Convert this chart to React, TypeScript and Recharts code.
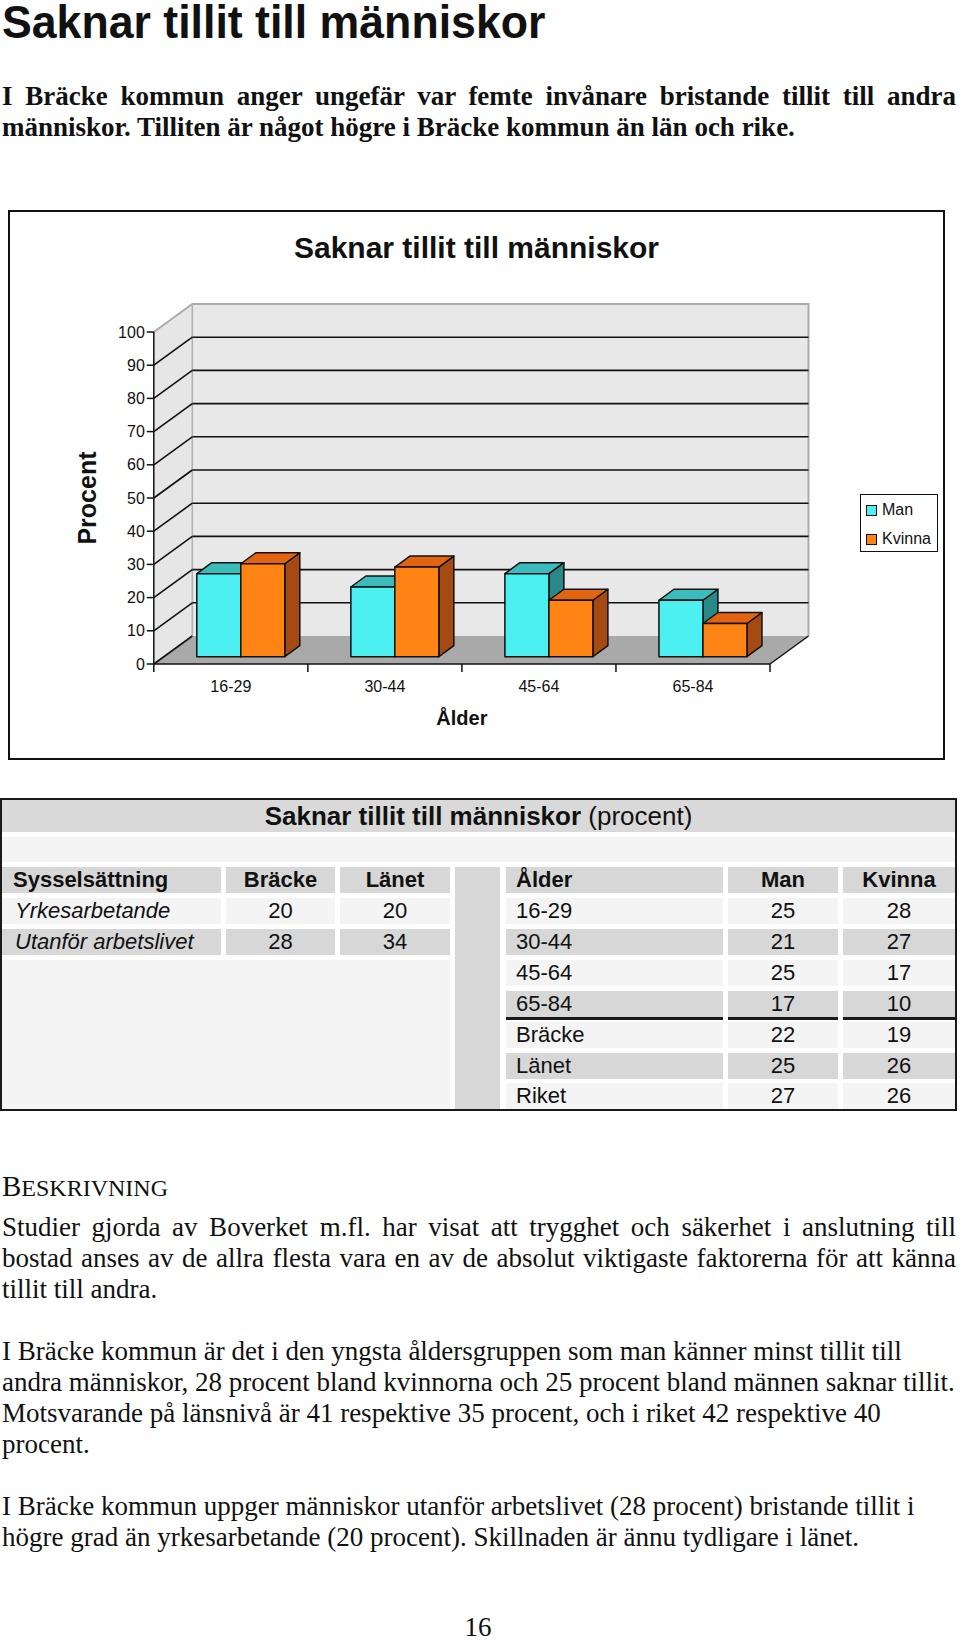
import React from 'react';
import { BarChart, Bar, XAxis, YAxis, ReferenceArea, ReferenceLine, Label } from 'recharts';

// chart data
const ageGroups = ['16-29', '30-44', '45-64', '65-84'];
const manValues = [25, 21, 25, 17];
const kvinnaValues = [28, 27, 17, 10];
const yTicks = [0, 10, 20, 30, 40, 50, 60, 70, 80, 90, 100];

// table data
const occupations = ['Yrkesarbetande', 'Utanför arbetslivet'];
const occBracke = [20, 28];
const occLanet = [20, 34];
const areaNames = ['Bräcke', 'Länet', 'Riket'];
const areaMan = [22, 25, 27];
const areaKvinna = [19, 26, 26];

const chartData = ageGroups.map((age, i) => ({ age, man: manValues[i], kvinna: kvinnaValues[i] }));

const SANS = '"Liberation Sans", Arial, Helvetica, sans-serif';
const SERIF = '"Liberation Serif", "Times New Roman", serif';

const manColors = { front: '#4cf0f0', top: '#3bbcbc', side: '#2b8888' };
const kvinnaColors = { front: '#ff8414', top: '#e2640f', side: '#a54a12' };

// fake 3d offsets
const WALL_DX = 38.5;
const WALL_DY = -28;
const PLANE_DX = 10;
const PLANE_DY = -7.3;
const BAR_DX = 15;
const BAR_DY = -11;

const Room = (p: any) => {
  const { x, y, width: w, height: h } = p;
  const b = y + h;
  return (
    <g>
      <polygon
        points={`${x},${y} ${x + WALL_DX},${y + WALL_DY} ${x + WALL_DX},${b + WALL_DY} ${x},${b}`}
        fill="#e6e6e6"
      />
      <rect x={x + WALL_DX} y={y + WALL_DY} width={w} height={h} fill="#e8e8e8" />
      <polygon
        points={`${x},${b} ${x + w},${b} ${x + w + WALL_DX},${b + WALL_DY} ${x + WALL_DX},${b + WALL_DY}`}
        fill="#a9a9a9"
      />
      <polyline
        points={`${x},${y} ${x + WALL_DX},${y + WALL_DY} ${x + w + WALL_DX},${y + WALL_DY} ${x + w + WALL_DX},${b + WALL_DY}`}
        fill="none"
        stroke="#ababab"
        strokeWidth={2}
      />
      <line x1={x + WALL_DX} y1={y + WALL_DY} x2={x + WALL_DX} y2={b + WALL_DY} stroke="#b0b0b0" strokeWidth={1.5} />
      <line x1={x + w} y1={b} x2={x + w + WALL_DX} y2={b + WALL_DY} stroke="#111" strokeWidth={1.5} />
    </g>
  );
};

const WallLine = (p: any) => {
  const { x1, x2, y1, value } = p;
  if (value === 100) return <g />;
  return (
    <g>
      {value !== 0 && (
        <line x1={x1 + WALL_DX} y1={y1 + WALL_DY} x2={x2 + WALL_DX} y2={y1 + WALL_DY} stroke="#111" strokeWidth={1.6} />
      )}
      <line x1={x1} y1={y1} x2={x1 + WALL_DX} y2={y1 + WALL_DY} stroke="#111" strokeWidth={1.6} />
    </g>
  );
};

const Box3D = (p: any) => {
  const { x, y, width, height, colors } = p;
  const x0 = x + PLANE_DX;
  const y0 = y + PLANE_DY;
  const x1 = x0 + width;
  const y1 = y0 + height;
  return (
    <g stroke="#111" strokeWidth={1.5} strokeLinejoin="round">
      <polygon
        points={`${x1},${y0} ${x1 + BAR_DX},${y0 + BAR_DY} ${x1 + BAR_DX},${y1 + BAR_DY} ${x1},${y1}`}
        fill={colors.side}
      />
      <polygon
        points={`${x0},${y0} ${x0 + BAR_DX},${y0 + BAR_DY} ${x1 + BAR_DX},${y0 + BAR_DY} ${x1},${y0}`}
        fill={colors.top}
      />
      <rect x={x0} y={y0} width={width} height={height} fill={colors.front} />
    </g>
  );
};

const AgeTick = (p: any) => {
  const { x, y, payload, index } = p;
  const half = payload && payload.offset ? payload.offset : 77;
  return (
    <g>
      <line x1={x - half} x2={x - half} y1={y} y2={y + 8} stroke="#111" strokeWidth={1.5} />
      {index === ageGroups.length - 1 && (
        <line x1={x + half} x2={x + half} y1={y} y2={y + 8} stroke="#111" strokeWidth={1.5} />
      )}
      <text x={x} y={y + 22} textAnchor="middle" dominantBaseline="central" fontSize={16} fontFamily={SANS} fill="#111">
        {payload.value}
      </text>
    </g>
  );
};

const Chart3D = () => (
  <BarChart
    width={935}
    height={548}
    data={chartData}
    margin={{ top: 121, right: 174, bottom: 65, left: 11 }}
    barSize={44}
    barGap={0}
  >
    <ReferenceArea y1={0} y2={100} shape={(p: any) => <Room {...p} />} zIndex={-90} />
    {yTicks.map((v) => (
      <ReferenceLine key={v} y={v} stroke="none" shape={(p: any) => <WallLine {...p} value={v} />} zIndex={-80} />
    ))}
    <XAxis
      dataKey="age"
      height={30}
      axisLine={{ stroke: '#111', strokeWidth: 1.5 }}
      tickLine={false}
      tickSize={0}
      tickMargin={0}
      interval={0}
      tick={<AgeTick />}
    >
      <Label
        value="Ålder"
        position="bottom"
        offset={17}
        style={{ fontFamily: SANS, fontSize: 20, fontWeight: 700, fill: '#111' }}
      />
    </XAxis>
    <YAxis
      type="number"
      domain={[0, 100]}
      ticks={yTicks}
      interval={0}
      width={133.8}
      tickSize={7}
      tickMargin={2}
      axisLine={{ stroke: '#111', strokeWidth: 1.5 }}
      tickLine={{ stroke: '#111', strokeWidth: 1.5 }}
      tick={{ fill: '#111', fontSize: 16, fontFamily: SANS }}
    >
      <Label
        value="Procent"
        angle={-90}
        position="center"
        style={{ fontFamily: SANS, fontSize: 25, fontWeight: 700, fill: '#111' }}
      />
    </YAxis>
    <Bar dataKey="man" name="Man" isAnimationActive={false} shape={(p: any) => <Box3D {...p} colors={manColors} />} />
    <Bar
      dataKey="kvinna"
      name="Kvinna"
      isAnimationActive={false}
      shape={(p: any) => <Box3D {...p} colors={kvinnaColors} />}
    />
  </BarChart>
);

const legendItems = [
  { name: 'Man', color: manColors.front },
  { name: 'Kvinna', color: kvinnaColors.front },
];

// page text
const boldLines = [
  'I Bräcke kommun anger ungefär var femte invånare bristande tillit till andra',
  'människor. Tilliten är något högre i Bräcke kommun än län och rike.',
];
const para1 = [
  'Studier gjorda av Boverket m.fl. har visat att trygghet och säkerhet i anslutning till',
  'bostad anses av de allra flesta vara en av de absolut viktigaste faktorerna för att känna',
  'tillit till andra.',
];
const para2 = [
  'I Bräcke kommun är det i den yngsta åldersgruppen som man känner minst tillit till',
  'andra människor, 28 procent bland kvinnorna och 25 procent bland männen saknar tillit.',
  'Motsvarande på länsnivå är 41 respektive 35 procent, och i riket 42 respektive 40',
  'procent.',
];
const para3 = [
  'I Bräcke kommun uppger människor utanför arbetslivet (28 procent) bristande tillit i',
  'högre grad än yrkesarbetande (20 procent). Skillnaden är ännu tydligare i länet.',
];

const TextLine = ({ top, text, justify = false, bold = false }: any) => (
  <div
    style={{
      position: 'absolute',
      left: 2,
      top,
      width: 954,
      fontFamily: SERIF,
      fontSize: 27,
      lineHeight: '31px',
      fontWeight: bold ? 700 : 400,
      color: '#111',
      textAlign: justify ? 'justify' : 'left',
      textAlignLast: justify ? 'justify' : 'auto',
      whiteSpace: justify ? 'normal' : 'nowrap',
    }}
  >
    {text}
  </div>
);

const LIGHT = '#f4f4f4';
const GRAY = '#d7d7d7';

const Cell = ({ left, right, top, height = 26, bg, children, align = 'center', bold = false, italic = false, pad = 0 }: any) => (
  <div
    style={{
      position: 'absolute',
      left,
      top,
      width: right - left,
      height,
      background: bg,
      display: 'flex',
      alignItems: 'center',
      justifyContent: align === 'left' ? 'flex-start' : 'center',
      paddingLeft: pad,
      boxSizing: 'border-box',
      fontFamily: SANS,
      fontSize: 22,
      fontWeight: bold ? 700 : 400,
      fontStyle: italic ? 'italic' : 'normal',
      color: '#111',
      whiteSpace: 'nowrap',
    }}
  >
    {children}
  </div>
);

const leftCols = [
  [2, 221],
  [226, 335],
  [340, 450],
];
const rightCols = [
  [506, 723],
  [728, 838],
  [843, 955],
];
const headerTop = 867;
const rowTops = [898, 929, 960, 991, 1022, 1053, 1083];

const DataTable = () => {
  const rightRows = [
    ...ageGroups.map((a, i) => [a, manValues[i], kvinnaValues[i]]),
    ...areaNames.map((a, i) => [a, areaMan[i], areaKvinna[i]]),
  ];
  return (
    <>
      <div
        style={{
          position: 'absolute',
          left: 0,
          top: 798,
          width: 957,
          height: 313,
          border: '2px solid #1a1a1a',
          boxSizing: 'border-box',
          background: '#fff',
        }}
      />
      <div style={{ position: 'absolute', left: 2, top: 800, width: 953, height: 32, background: '#d9d9d9' }} />
      <div
        style={{
          position: 'absolute',
          left: 2,
          top: 803,
          width: 953,
          textAlign: 'center',
          fontFamily: SANS,
          fontSize: 26,
          lineHeight: '26px',
          color: '#111',
          whiteSpace: 'nowrap',
        }}
      >
        <span style={{ fontWeight: 700 }}>Saknar tillit till människor</span> (procent)
      </div>
      <div style={{ position: 'absolute', left: 2, top: 837, width: 953, height: 25, background: LIGHT }} />
      <div style={{ position: 'absolute', left: 455, top: 867, width: 45, height: 242, background: GRAY }} />
      <div style={{ position: 'absolute', left: 2, top: 960, width: 448, height: 149, background: LIGHT }} />

      <Cell left={leftCols[0][0]} right={leftCols[0][1]} top={headerTop} bg={GRAY} bold align="left" pad={11}>
        Sysselsättning
      </Cell>
      <Cell left={leftCols[1][0]} right={leftCols[1][1]} top={headerTop} bg={GRAY} bold>
        Bräcke
      </Cell>
      <Cell left={leftCols[2][0]} right={leftCols[2][1]} top={headerTop} bg={GRAY} bold>
        Länet
      </Cell>
      {occupations.map((o, i) => {
        const bg = i % 2 === 0 ? LIGHT : GRAY;
        return (
          <React.Fragment key={o}>
            <Cell left={leftCols[0][0]} right={leftCols[0][1]} top={rowTops[i]} bg={bg} italic align="left" pad={13}>
              {o}
            </Cell>
            <Cell left={leftCols[1][0]} right={leftCols[1][1]} top={rowTops[i]} bg={bg}>
              {occBracke[i]}
            </Cell>
            <Cell left={leftCols[2][0]} right={leftCols[2][1]} top={rowTops[i]} bg={bg}>
              {occLanet[i]}
            </Cell>
          </React.Fragment>
        );
      })}

      <Cell left={rightCols[0][0]} right={rightCols[0][1]} top={headerTop} bg={GRAY} bold align="left" pad={10}>
        Ålder
      </Cell>
      <Cell left={rightCols[1][0]} right={rightCols[1][1]} top={headerTop} bg={GRAY} bold>
        Man
      </Cell>
      <Cell left={rightCols[2][0]} right={rightCols[2][1]} top={headerTop} bg={GRAY} bold>
        Kvinna
      </Cell>
      {rightRows.map((r, i) => {
        const bg = i % 2 === 0 ? LIGHT : GRAY;
        return (
          <React.Fragment key={String(r[0])}>
            <Cell left={rightCols[0][0]} right={rightCols[0][1]} top={rowTops[i]} bg={bg} align="left" pad={10}>
              {r[0]}
            </Cell>
            <Cell left={rightCols[1][0]} right={rightCols[1][1]} top={rowTops[i]} bg={bg}>
              {r[1]}
            </Cell>
            <Cell left={rightCols[2][0]} right={rightCols[2][1]} top={rowTops[i]} bg={bg}>
              {r[2]}
            </Cell>
          </React.Fragment>
        );
      })}
      {rightCols.map((c) => (
        <div
          key={c[0]}
          style={{ position: 'absolute', left: c[0], top: 1017, width: c[1] - c[0], height: 2.5, background: '#1a1a1a' }}
        />
      ))}
    </>
  );
};

const App = () => {
  return (
    <div style={{ position: 'absolute', left: 0, top: 0, width: 960, height: 1644, background: '#fff', overflow: 'hidden' }}>
      <div
        style={{
          position: 'absolute',
          left: 2,
          top: 2,
          fontFamily: SANS,
          fontWeight: 700,
          fontSize: 47,
          lineHeight: '40px',
          color: '#111',
          whiteSpace: 'nowrap',
          transform: 'scaleX(0.95)',
          transformOrigin: '0 0',
        }}
      >
        Saknar tillit till människor
      </div>

      <TextLine top={80.5} text={boldLines[0]} bold justify />
      <TextLine top={112} text={boldLines[1]} bold />

      {/* chart frame */}
      <div
        style={{
          position: 'absolute',
          left: 8,
          top: 210,
          width: 937,
          height: 550,
          border: '2px solid #111',
          boxSizing: 'border-box',
        }}
      />
      <div
        style={{
          position: 'absolute',
          left: 9,
          top: 233.4,
          width: 935,
          textAlign: 'center',
          fontFamily: SANS,
          fontWeight: 700,
          fontSize: 30,
          lineHeight: '30px',
          color: '#111',
        }}
      >
        Saknar tillit till människor
      </div>
      <div style={{ position: 'absolute', left: 9, top: 211 }}>
        <Chart3D />
      </div>
      <div
        style={{
          position: 'absolute',
          left: 860,
          top: 494,
          width: 78,
          height: 58,
          border: '1.5px solid #111',
          boxSizing: 'border-box',
          background: '#fff',
        }}
      >
        {legendItems.map((it, i) => (
          <div
            key={it.name}
            style={{
              position: 'absolute',
              left: 5,
              top: 5 + i * 29,
              height: 20,
              display: 'flex',
              alignItems: 'center',
              fontFamily: SANS,
              fontSize: 16,
              color: '#111',
            }}
          >
            <span
              style={{
                display: 'inline-block',
                width: 9,
                height: 9,
                background: it.color,
                border: '1px solid #111',
                marginRight: 5,
              }}
            />
            {it.name}
          </div>
        ))}
      </div>

      <DataTable />

      <div style={{ position: 'absolute', left: 2, top: 1171, fontFamily: SERIF, color: '#111', whiteSpace: 'nowrap', lineHeight: '31px' }}>
        <span style={{ fontSize: 29 }}>B</span>
        <span style={{ fontSize: 24 }}>ESKRIVNING</span>
      </div>
      {para1.map((t, i) => (
        <TextLine key={t} top={1212 + i * 31} text={t} justify={i < 2} />
      ))}
      {para2.map((t, i) => (
        <TextLine key={t} top={1336 + i * 31} text={t} />
      ))}
      {para3.map((t, i) => (
        <TextLine key={t} top={1491 + i * 31} text={t} />
      ))}
      <div
        style={{
          position: 'absolute',
          left: 0,
          top: 1613,
          width: 956,
          textAlign: 'center',
          fontFamily: SERIF,
          fontSize: 27,
          lineHeight: '28px',
          color: '#111',
        }}
      >
        16
      </div>
    </div>
  );
};

export default App;
